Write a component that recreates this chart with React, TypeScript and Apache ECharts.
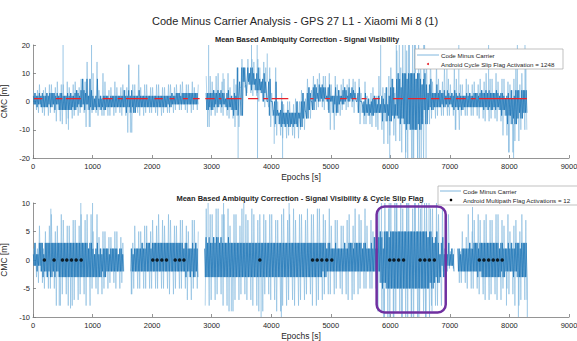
import React, { useEffect, useRef } from "react";
import * as echarts from "echarts";

const FONT = "'Liberation Sans', Arial, Helvetica, sans-serif";
const BIN = 100;

const mainTitle = "Code Minus Carrier Analysis - GPS 27 L1 - Xiaomi Mi 8 (1)";
const topSubtitle = "Mean Based Ambiquity Correction - Signal Visibility";
const botSubtitle = "Mean Based Ambiquity Correction - Signal Visibility & Cycle Slip Flag";
const cmcName = "Code Minus Carrier";
const slipName = "Android Cycle Slip Flag Activation = 1248";
const multipathName = "Android Multipath Flag Activations = 12";
const xTitle = "Epochs [s]";
const yTitle = "CMC [m]";

// ---- top panel: envelope per 100-epoch bin
const topOuterHi = [4, 6, 5, 6, 7, 6, 5, 7, 8, 14, 10, 4, 7, 5, 5, 6, 13, 6, 5, 6, 5, 6, 5, 6, 6, 7, 6, 5, null, 9, 7, 10, 8, 5, 6, 15, 15, 14, 12, 12, 3, 0, -1, 0, 1, 4, 8, 9, 10, 9, 6, 6, 8, 8, 7, 3, 2, 5, 9, 3, 12, 18, 20, 20, 20, 18, 14, 7, 8, 12, 6, 8, 6, 6, 7, 8, 10, 8, 7, 8, 6, 12, 10];
const topOuterLo = [-3, -4, -5, -4, -7, -8, -6, -5, -4, -9, -4, -5, -5, -5, -4, -5, -11, -4, -5, -4, -4, -5, -4, -4, -3, -3, -4, -3, null, -9, -5, -4, -5, -6, -9, 5, 3, 2, 0, -2, -9, -12, -13, -12, -13, -10, -6, -3, -2, -3, -10, -5, -3, -2, -4, -8, -8, -9, -10, -15, -12, -14, -18, -20, -20, -20, -8, -6, -5, -5, -5, -10, -5, -5, -5, -6, -7, -6, -7, -12, -18, -14, -10];
const topCoreHi = [2, 3, 2, 3, 3, 2, 2, 3, 4, 8, 2, 1, 2, 2, 2, 2, 4, 2, 2, 2, 2, 2, 2, 2, 3, 3, 3, 3, null, 3, 3, 4, 3, 1, 2, 12, 12, 10, 8, 7, 0, -3, -4, -4, -4, 0, 3, 5, 6, 5, 2, 2, 4, 5, 3, 0, -1, 1, 2, -1, 5, 8, 10, 10, 10, 8, 6, 3, 3, 4, 2, 3, 2, 2, 3, 3, 4, 3, 3, 2, 1, 4, 4];
const topCoreLo = [-1, -2, -2, -1, -3, -3, -3, -2, -1, -3, -2, -3, -2, -2, -2, -2, -4, -2, -2, -2, -2, -2, -2, -1, -1, -1, -1, -1, null, -3, -2, -1, -2, -3, -5, 7, 6, 4, 3, 0, -5, -8, -9, -8, -9, -6, -3, 0, 1, 0, -4, -1, 0, 1, 0, -4, -5, -4, -4, -7, -5, -6, -8, -10, -10, -8, -3, -2, -2, -1, -2, -3, -2, -2, -2, -2, -3, -2, -3, -5, -8, -6, -4];
const topGaps = [[2780, 2880], [8310, 9000]];
const topSpikes = [[505, 20], [595, -10], [944, -9], [983, 20], [1607, 13], [1635, -11], [2930, -9], [2949, 20], [3191, 10], [3444, -20], [3669, 20], [3764, 20], [3770, -20], [3933, 17], [4050, -15], [4191, -20], [5838, 20], [5990, -20], [6100, 20], [6150, 20], [6256, -20], [6250, 20], [6320, 20], [6380, -20], [6420, 20], [6460, -20], [6520, -20], [6560, 20], [6600, -20], [6950, 13], [7100, -10], [7150, 20], [7650, 20], [7989, -18], [8070, -20], [8133, 20], [8261, 20]];
const topSlipRuns = [[17, 157], [382, 494], [551, 803], [1168, 1337], [1421, 1506], [1562, 1927], [2039, 2180], [2292, 2376], [2517, 2601], [2685, 2798], [2893, 3051], [3118, 3163], [3247, 3500], [3612, 3781], [3865, 3949], [4006, 4287], [4656, 4711], [4906, 4989], [5156, 5267], [5350, 5433], [5517, 5600], [5711, 5822], [6044, 6211], [6294, 6600], [6683, 6822], [6906, 7017], [7100, 7267], [7350, 7433], [7489, 8294]];
const slipLevel = 1;

// ---- bottom panel
const botOuterHi = [2, 6, 5, 8, 6, 7, 6, 7, 8, 8, 5, 4, 5, 4, 5, 3, 5, 6, 5, 6, 7, 8, 6, 7, 6, 7, 5, 7, 8, 9, 8, 9, 8, 6, 8, 9, 7, 8, 8, 7, 8, 7, 9, 8, 7, 8, 9, 8, 9, 7, 6, 7, 6, 8, 9, 7, 6, 5, 9, 10, 10, 10, 9, 10, 10, 9, 10, 9, 8, 2, 1.5, 4, 5, 8, 7, 7, 8, 7, 8, 6, 5, 7, 8];
const botOuterLo = [-3, -4, -5, -5, -8, -6, -8, -7, -6, -8, -5, -6, -5, -4, -5, -4, -6, -5, -5, -5, -5, -5, -5, -6, -5, -5, -7, -5, -6, -8, -7, -6, -8, -9, -7, -6, -7, -8, -9, -6, -7, -9, -8, -7, -8, -7, -6, -8, -7, -6, -6, -5, -6, -7, -6, -5, -5, -5, -9, -10, -10, -9, -10, -10, -10, -9, -10, -8, -8, -2, -1.5, -4, -4, -5, -5, -6, -7, -6, -7, -5, -6, -8, -7];
const botCoreHi = [1, 3, 3, 3, 3, 3, 3, 3, 3, 3, 2, 1, 2, 2, 2, 1, 2, 2, 2, 3, 3, 3, 3, 3, 3, 3, 2, 2, 3, 4, 3, 4, 3, 3, 3, 3, 3, 3, 3, 3, 3, 3, 3, 3, 3, 3, 3, 3, 3, 3, 2, 2, 2, 3, 3, 3, 2, 2, 4, 5, 5, 5, 5, 5, 5, 5, 5, 4, 3, 1, 1, 2, 2, 2, 3, 3, 3, 3, 3, 2, 2, 3, 3];
const botCoreLo = [-1, -2, -3, -2, -3, -3, -3, -3, -3, -3, -3, -3, -2, -2, -2, -2, -2, -2, -2, -2, -2, -2, -2, -2, -2, -2, -3, -2, -3, -3, -3, -3, -3, -3, -3, -3, -3, -3, -3, -3, -3, -3, -3, -3, -3, -3, -3, -3, -3, -2, -2, -2, -2, -2, -2, -2, -2, -2, -4, -5, -5, -5, -5, -5, -5, -5, -5, -4, -3, -1, -1, -2, -2, -2, -2, -3, -3, -3, -3, -2, -2, -3, -3];
const botGaps = [[1530, 1640], [2780, 2880], [7080, 7130], [8320, 9000]];
const botSpikes = [[300, 9], [440, -8], [630, -8.5], [803, 10], [1000, 10], [1650, -6], [2940, 10], [3200, 10], [3330, -9], [3540, 10], [3830, -10], [4170, -10], [4300, 10], [5850, 10], [5900, -10], [5980, 10], [6050, -10], [6100, 10], [6200, -10], [6280, 10], [6350, -10], [6420, 10], [6480, -10], [6530, 10], [6600, -10], [6650, 10], [6700, -9], [7380, 9.3], [7950, -8], [8150, -10], [8300, -10]];
const botMultipathEpochs = [191, 354, 494, 567, 646, 725, 809, 2011, 2084, 2163, 2242, 2388, 2461, 2534, 3809, 4694, 4772, 4850, 4933, 5017, 5989, 6061, 6139, 6222, 6500, 6578, 6656, 6739, 7494, 7572, 7650, 7728, 7800, 7878];
const highlightBox = [[5770, 9.4], [6930, -9.2]];

const xTicks = { min: 0, max: 9000, interval: 1000 };
const topY = { min: -20, max: 20, interval: 10 };
const botY = { min: -10, max: 10, interval: 5 };

type Arr = (number | null)[];

function inGap(e: number, gaps: number[][]) {
  return gaps.some(([a, b]) => e >= a && e < b);
}

function pick(arr: Arr, i: number, fallback: number) {
  const v = i >= 0 && i < arr.length ? arr[i] : null;
  return v == null ? fallback : v;
}

// vertices alternate between read envelope values of this bin and its neighbours
function outerData(oHi: Arr, oLo: Arr, cHi: Arr, cLo: Arr, gaps: number[][]) {
  const out: any[] = [];
  const per = 6;
  for (let i = 0; i < oHi.length; i++) {
    const h = oHi[i], l = oLo[i], ch = cHi[i], cl = cLo[i];
    for (let k = 0; k < per; k++) {
      const e = i * BIN + ((k + 0.5) * BIN) / per;
      if (h == null || l == null || ch == null || cl == null || inGap(e, gaps)) {
        out.push([e, "-"]);
        continue;
      }
      const j = k >> 1;
      const v =
        k % 2 === 0
          ? [h, pick(cHi, i + 1, ch), pick(oHi, i - 1, h)][j]
          : [cl, l, pick(oLo, i + 1, l)][j];
      out.push([e, v]);
    }
  }
  return out;
}

function coreData(cHi: Arr, cLo: Arr, gaps: number[][]) {
  const out: any[] = [];
  const per = 8;
  for (let i = 0; i < cHi.length; i++) {
    const h = cHi[i], l = cLo[i];
    for (let k = 0; k < per; k++) {
      const e = i * BIN + ((k + 0.5) * BIN) / per;
      if (h == null || l == null || inGap(e, gaps)) {
        out.push([e, "-"]);
        continue;
      }
      const j = k >> 1;
      const v =
        k % 2 === 0
          ? [h, pick(cHi, i + 1, h), h, pick(cHi, i - 1, h)][j]
          : [pick(cLo, i - 1, l), l, pick(cLo, i + 1, l), l][j];
      out.push([e, v]);
    }
  }
  return out;
}

function spikeData(spikes: number[][], cHi: Arr, cLo: Arr) {
  const out: any[] = [];
  spikes.forEach(([e, v]) => {
    const i = Math.min(cHi.length - 1, Math.floor(e / BIN));
    const base = v > 0 ? pick(cHi, i, 0) : pick(cLo, i, 0);
    out.push([e, base], [e, v], [e, "-"]);
  });
  return out;
}

function runData(runs: number[][], level: number) {
  const out: any[] = [];
  runs.forEach(([a, b]) => {
    out.push([a, level], [b, level], [b, "-"]);
  });
  return out;
}

const OUTER = "#80b7de";
const CORE = "#1670b3";
const AXIS = "#7a7a7a";
const TXT = "#262626";

function xAxisCfg(gridIndex: number) {
  return {
    type: "value",
    gridIndex,
    ...xTicks,
    name: xTitle,
    nameLocation: "middle",
    nameGap: 14,
    nameTextStyle: { fontSize: 8.5, color: TXT, fontFamily: FONT },
    axisLine: { show: true, onZero: false, lineStyle: { color: AXIS, width: 0.8 } },
    axisTick: { show: true, inside: true, length: 3, lineStyle: { color: AXIS, width: 0.8 } },
    axisLabel: { fontSize: 7.5, color: TXT, fontFamily: FONT, margin: 4, formatter: (v: number) => String(v) },
    splitLine: { show: false },
  };
}

function yAxisCfg(gridIndex: number, r: any) {
  return {
    type: "value",
    gridIndex,
    ...r,
    name: yTitle,
    nameLocation: "middle",
    nameGap: 12,
    nameRotate: 90,
    nameTextStyle: { fontSize: 8.5, color: TXT, fontFamily: FONT },
    axisLine: { show: true, onZero: false, lineStyle: { color: AXIS, width: 0.8 } },
    axisTick: { show: true, inside: true, length: 3, lineStyle: { color: AXIS, width: 0.8 } },
    axisLabel: { fontSize: 7.5, color: TXT, fontFamily: FONT, margin: 3, formatter: (v: number) => String(v) },
    splitLine: { show: false },
  };
}

function lineSeries(name: string, data: any[], idx: number, color: string, width: number, z = 2) {
  return {
    type: "line",
    name,
    xAxisIndex: idx,
    yAxisIndex: idx,
    data,
    showSymbol: false,
    symbol: "none",
    connectNulls: false,
    lineStyle: { color, width },
    itemStyle: { color },
    z,
  };
}

export default function App() {
  const ref = useRef<HTMLDivElement>(null);
  useEffect(() => {
    if (!ref.current) return;
    const chart = echarts.init(ref.current, undefined, { renderer: "svg" });
    chart.setOption({
      animation: false,
      backgroundColor: "#ffffff",
      grid: [
        { left: 33, right: 8, top: 45, height: 113, containLabel: false, outerBoundsMode: "none" },
        { left: 33, right: 8, top: 203, height: 114, containLabel: false, outerBoundsMode: "none" },
      ],
      xAxis: [xAxisCfg(0), xAxisCfg(1)],
      yAxis: [yAxisCfg(0, topY), yAxisCfg(1, botY)],
      series: [
        lineSeries(cmcName, outerData(topOuterHi, topOuterLo, topCoreHi, topCoreLo, topGaps), 0, OUTER, 0.6, 2),
        lineSeries(cmcName, coreData(topCoreHi, topCoreLo, topGaps), 0, CORE, 0.7, 3),
        lineSeries(cmcName, spikeData(topSpikes, topCoreHi, topCoreLo), 0, OUTER, 0.8, 3),
        lineSeries(slipName, runData(topSlipRuns, slipLevel), 0, "#e8222a", 1.2, 5),
        lineSeries(cmcName, outerData(botOuterHi, botOuterLo, botCoreHi, botCoreLo, botGaps), 1, OUTER, 0.6, 2),
        lineSeries(cmcName, coreData(botCoreHi, botCoreLo, botGaps), 1, CORE, 0.7, 3),
        lineSeries(cmcName, spikeData(botSpikes, botCoreHi, botCoreLo), 1, OUTER, 0.8, 3),
        {
          type: "scatter",
          name: multipathName,
          xAxisIndex: 1,
          yAxisIndex: 1,
          data: botMultipathEpochs.map((e) => [e, 0]),
          symbol: "circle",
          symbolSize: 3.5,
          itemStyle: { color: "#000000" },
          z: 6,
        },
      ],
    });

    const p1 = chart.convertToPixel({ gridIndex: 1 }, highlightBox[0]) as number[];
    const p2 = chart.convertToPixel({ gridIndex: 1 }, highlightBox[1]) as number[];

    const txt = (text: string, x: number, y: number, size: number, align: string, weight = "normal") => ({
      type: "text",
      x,
      y,
      z: 100,
      style: {
        text,
        fontSize: size,
        fontFamily: FONT,
        fontWeight: weight,
        fill: TXT,
        textAlign: align,
        textVerticalAlign: "middle",
      },
    });

    chart.setOption({
      graphic: {
        elements: [
          txt(mainTitle, 295, 21, 11, "center"),
          txt(topSubtitle, 307, 39, 7.5, "center", "bold"),
          txt(botSubtitle, 300, 198, 7.5, "center", "bold"),
          {
            type: "rect",
            z: 99,
            shape: { x: 415, y: 49, width: 148, height: 20 },
            style: { fill: "#ffffff", stroke: "#a8a8a8", lineWidth: 0.7 },
          },
          {
            type: "line",
            z: 100,
            shape: { x1: 417, y1: 55, x2: 439, y2: 55 },
            style: { stroke: OUTER, lineWidth: 1 },
          },
          txt(cmcName, 441, 55, 6.2, "left"),
          { type: "circle", z: 100, shape: { cx: 428, cy: 64, r: 1 }, style: { fill: "#e8222a" } },
          txt(slipName, 441, 64, 6.2, "left"),
          {
            type: "rect",
            z: 99,
            shape: { x: 438, y: 186, width: 150, height: 19 },
            style: { fill: "#ffffff", stroke: "#a8a8a8", lineWidth: 0.7 },
          },
          {
            type: "line",
            z: 100,
            shape: { x1: 440, y1: 191, x2: 461, y2: 191 },
            style: { stroke: OUTER, lineWidth: 1 },
          },
          txt(cmcName, 463, 191, 6.2, "left"),
          { type: "circle", z: 100, shape: { cx: 451, cy: 200, r: 1.3 }, style: { fill: "#000000" } },
          txt(multipathName, 463, 200, 6.2, "left"),
          {
            type: "rect",
            z: 98,
            shape: { x: p1[0], y: p1[1], width: p2[0] - p1[0], height: p2[1] - p1[1], r: 8 },
            style: { fill: "none", stroke: "#7030A0", lineWidth: 2.5 },
          },
        ],
      },
    });

    return () => chart.dispose();
  }, []);
  return (
    <div
      ref={ref}
      style={{ position: "fixed", left: 0, top: 0, width: 577, height: 341, background: "#fff" }}
    />
  );
}
